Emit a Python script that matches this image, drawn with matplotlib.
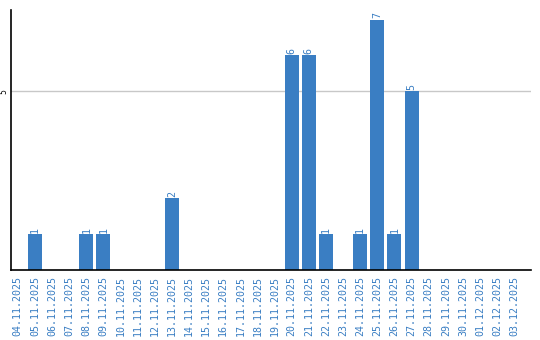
import matplotlib.pyplot as plt
import numpy as np

# dates and counts
dates = ['04.11.2025', '05.11.2025', '06.11.2025', '07.11.2025', '08.11.2025',
         '09.11.2025', '10.11.2025', '11.11.2025', '12.11.2025', '13.11.2025',
         '14.11.2025', '15.11.2025', '16.11.2025', '17.11.2025', '18.11.2025',
         '19.11.2025', '20.11.2025', '21.11.2025', '22.11.2025', '23.11.2025',
         '24.11.2025', '25.11.2025', '26.11.2025', '27.11.2025', '28.11.2025',
         '29.11.2025', '30.11.2025', '01.12.2025', '02.12.2025', '03.12.2025']
counts = [0, 1, 0, 0, 1, 1, 0, 0, 0, 2,
          0, 0, 0, 0, 0, 0, 6, 6, 1, 0,
          1, 7, 1, 5, 0, 0, 0, 0, 0, 0]

blue = '#3a7ec3'


def main():
    fig = plt.figure(figsize=(5.4, 3.4), dpi=100)
    ax = fig.add_axes([0.0204, 0.206, 0.963, 0.765])

    x = np.arange(len(dates))
    bars = ax.bar(x, counts, width=0.82, color=blue, zorder=2)

    # value labels over the bars
    for rect, v in zip(bars, counts):
        if v == 0:
            continue
        ax.text(rect.get_x() + rect.get_width() / 2, v + 0.04, str(v),
                rotation=90, ha='center', va='bottom', color=blue,
                fontsize=7.2, family='DejaVu Sans Mono')

    ax.set_xlim(-0.4, len(dates) - 0.02)
    ax.set_ylim(0, 7.27)

    ax.set_xticks(x)
    ax.set_xticklabels(dates, rotation=90, fontsize=7.2, color=blue,
                       family='DejaVu Sans Mono')
    ax.tick_params(axis='x', length=0, pad=4)
    ax.set_yticks([5])
    ax.set_yticklabels(['5'], rotation=90, fontsize=5.5, va='center')
    ax.tick_params(axis='y', length=0, pad=2)

    ax.yaxis.grid(True, color='#c8c8c8', linewidth=1)
    ax.set_axisbelow(True)
    for s in ['top', 'right']:
        ax.spines[s].set_visible(False)
    ax.spines['left'].set_linewidth(1.2)
    ax.spines['bottom'].set_linewidth(1.2)

    plt.savefig('out.png', dpi=100)


if __name__ == '__main__':
    main()
